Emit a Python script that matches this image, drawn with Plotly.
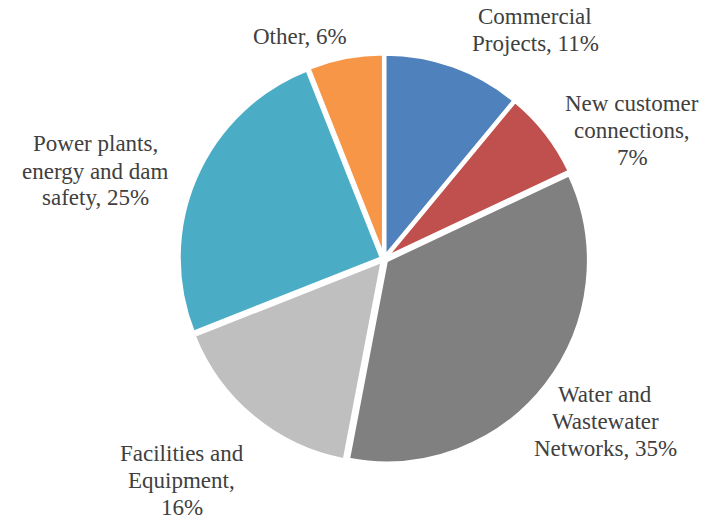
import plotly.graph_objects as go

categories = [
    "Commercial Projects",
    "New customer connections",
    "Water and Wastewater Networks",
    "Facilities and Equipment",
    "Power plants, energy and dam safety",
    "Other",
]
shares = [11, 7, 35, 16, 25, 6]
colors = ["#4F81BD", "#C0504D", "#808080", "#BFBFBF", "#4BACC6", "#F79646"]

# How each data label wraps: the words of the category name per line,
# with the "<name>, <share>%" text split at these word counts.
label_breaks = [
    [1, 2],
    [2, 1, 1],
    [2, 1, 2],
    [2, 1, 1],
    [2, 3, 2],
    [2],
]

# Label block centres (px from top-left) and line pitch
label_centres = [(535, 30), (632, 130), (605, 421), (182, 480), (95, 171), (300, 37)]
W, H = 719, 519
LINE = 27
FONT = dict(family="Liberation Serif", size=23, color="#404040")

# Pie centre and half-size of its domain, in px
CX, CY, HALF = 384, 259, 205


def wrap(name, value, breaks):
    words = f"{name}, {value}%".split(" ")
    lines, i = [], 0
    for n in breaks:
        lines.append(" ".join(words[i:i + n]))
        i += n
    return lines


fig = go.Figure(
    go.Pie(
        labels=categories,
        values=shares,
        textinfo="none",
        sort=False,
        direction="clockwise",
        rotation=0,
        pull=0.015,
        marker=dict(colors=colors, line=dict(color="white", width=3)),
        showlegend=False,
        domain=dict(x=[(CX - HALF) / W, (CX + HALF) / W],
                    y=[1 - (CY + HALF) / H, 1 - (CY - HALF) / H]),
        hoverinfo="label+percent",
    )
)

for name, value, breaks, (cx, cy) in zip(categories, shares, label_breaks, label_centres):
    lines = wrap(name, value, breaks)
    top = cy - LINE * (len(lines) - 1) / 2
    for k, line in enumerate(lines):
        fig.add_annotation(
            text=line,
            x=cx / W,
            y=1 - (top + k * LINE) / H,
            xref="paper",
            yref="paper",
            xanchor="center",
            yanchor="middle",
            showarrow=False,
            font=FONT,
        )

fig.update_layout(
    width=W,
    height=H,
    margin=dict(l=0, r=0, t=0, b=0),
    paper_bgcolor="white",
    plot_bgcolor="white",
)

fig.write_html("out.html")
